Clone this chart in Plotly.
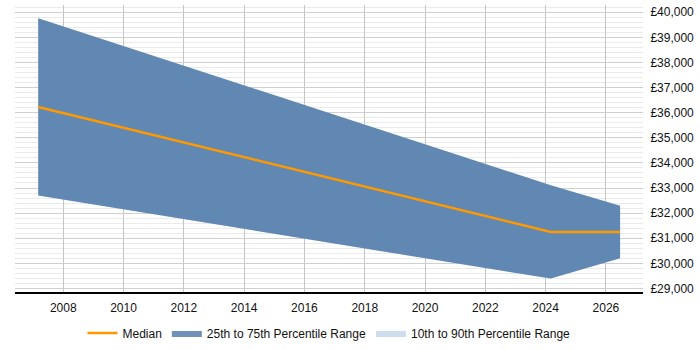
import plotly.graph_objects as go

years = [2007.17, 2024.17, 2026.47]
p10 = [32700, 29390, 30200]
p25 = [32700, 29390, 30200]
median = [36230, 31250, 31250]
p75 = [39760, 33110, 32290]
p90 = [39760, 33110, 32290]
tick_years = list(range(2008, 2027, 2))
y_ticks = list(range(29000, 40001, 1000))
y_labels = ["£{:,}".format(v) for v in y_ticks]

fig = go.Figure()

# 10th to 90th band (light)
fig.add_trace(go.Scatter(x=years, y=p10, mode="lines", line=dict(width=0),
                         showlegend=False, hoverinfo="skip"))
fig.add_trace(go.Scatter(x=years, y=p90, mode="lines", line=dict(width=0),
                         fill="tonexty", fillcolor="rgba(204,222,238,1)",
                         name="10th to 90th Percentile Range", legendrank=3))
# 25th to 75th band
fig.add_trace(go.Scatter(x=years, y=p25, mode="lines", line=dict(width=0),
                         showlegend=False, hoverinfo="skip"))
fig.add_trace(go.Scatter(x=years, y=p75, mode="lines", line=dict(width=0),
                         fill="tonexty", fillcolor="rgba(45,95,150,0.68)",
                         name="25th to 75th Percentile Range", legendrank=2))
fig.add_trace(go.Scatter(x=years, y=median, mode="lines",
                         line=dict(color="#FF9900", width=2.5),
                         name="Median", legendrank=1))

fig.update_layout(
    width=700, height=350,
    margin=dict(l=15, r=57, t=5, b=58, autoexpand=False),
    paper_bgcolor="white", plot_bgcolor="white",
    font=dict(family="Arial, Liberation Sans, sans-serif", size=12, color="#111"),
    showlegend=True,
    legend=dict(orientation="h", x=0.5, xanchor="center", y=-0.143, yanchor="middle",
                font=dict(size=12), itemwidth=30, traceorder="normal"),
)
fig.update_xaxes(
    range=[2006.4, 2027.23], tickmode="array", tickvals=tick_years,
    ticktext=[str(y) for y in tick_years],
    showgrid=True, gridcolor="#c4c4c4", gridwidth=1,
    showline=True, linecolor="black", linewidth=1.5,
    ticks="outside", ticklen=4, tickcolor="rgba(0,0,0,0)", zeroline=False,
)
fig.update_yaxes(
    range=[28857, 40290], side="right", tickmode="array", tickvals=y_ticks,
    ticktext=y_labels, showgrid=True, gridcolor="#d0d0d0", gridwidth=1,
    minor=dict(dtick=200, showgrid=True, gridcolor="#ebebeb", gridwidth=1),
    showline=False, zeroline=False, ticks="outside", ticklen=4,
    tickcolor="rgba(0,0,0,0)",
)

fig.write_html("out.html")
